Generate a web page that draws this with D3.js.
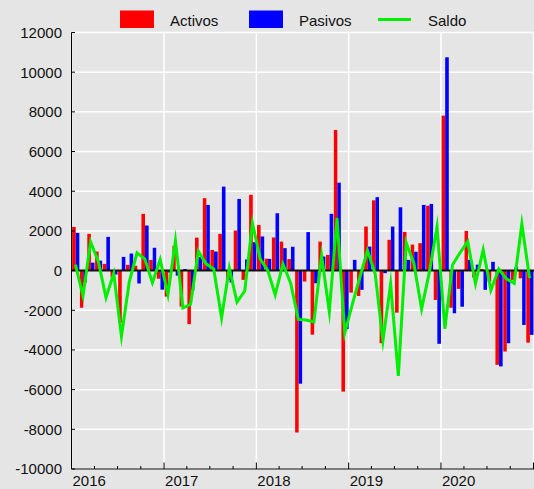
<!DOCTYPE html>
<html><head><meta charset="utf-8">
<script src="https://cdn.jsdelivr.net/npm/d3@7"></script>
<style>
body{margin:0;background:#e5e5e5;}
svg{display:block;font-family:"Liberation Sans",Arial,Helvetica,sans-serif;}
</style>
</head><body>
<svg id="c" width="534" height="489"></svg>
<script>
// ---- data ----
const months = [
 "2016-01","2016-02","2016-03","2016-04","2016-05","2016-06","2016-07","2016-08","2016-09","2016-10","2016-11","2016-12",
 "2017-01","2017-02","2017-03","2017-04","2017-05","2017-06","2017-07","2017-08","2017-09","2017-10","2017-11","2017-12",
 "2018-01","2018-02","2018-03","2018-04","2018-05","2018-06","2018-07","2018-08","2018-09","2018-10","2018-11","2018-12",
 "2019-01","2019-02","2019-03","2019-04","2019-05","2019-06","2019-07","2019-08","2019-09","2019-10","2019-11","2019-12",
 "2020-01","2020-02","2020-03","2020-04","2020-05","2020-06","2020-07","2020-08","2020-09","2020-10","2020-11","2020-12"];
const activos = [
 2200,-1870,1850,960,340,-340,-2620,290,240,2860,540,-410,
 -1310,1250,-1810,-2700,1660,3650,1040,1850,-470,2020,-470,3820,
 2300,600,1670,1460,580,-8160,-550,-3230,1460,790,7090,-6100,
 -1110,-1280,2220,3540,-3660,1550,-2120,1950,1310,1380,3270,-1480,
 7810,-1870,-920,2000,-350,80,-550,-4750,-4080,-470,-390,-3630];
const pasivos = [
 1900,-600,400,500,1700,-200,690,860,-650,2270,1150,-960,
 -100,-250,80,-1000,680,3310,960,4230,-600,3610,560,1430,
 1720,590,2890,1130,1200,-5700,1940,-640,710,2860,4430,-2950,
 540,-970,1210,3700,-130,2220,3190,540,950,3310,3360,-3690,
 10750,-2150,-1820,540,300,-970,440,-4830,-3660,170,-2740,-3240];
const saldo = [
 300,-1270,1450,460,-1360,-140,-3310,-570,890,590,-610,550,
 -1210,1500,-1890,-1700,980,340,80,-2380,130,-1590,-1030,2390,
 580,10,-1220,330,-620,-2460,-2490,-2590,750,-2070,2660,-3150,
 -1650,-310,1010,-160,-3530,-670,-5310,1410,360,-1930,-90,2210,
 -2940,280,900,1460,-650,1050,-990,80,-420,-640,2350,-390];
const yTicks = [-10000,-8000,-6000,-4000,-2000,0,2000,4000,6000,8000,10000,12000];
const yearLabels = ["2016","2017","2018","2019","2020"];
const seriesNames = ["Activos","Pasivos","Saldo"];
const colors = ["#ff0000","#0000ff","#00ee00"];

// ---- chart ----
const svg = d3.select("#c");
const parse = d3.timeParse("%Y-%m");
const dates = months.map(parse);
const x = d3.scaleTime().domain([parse("2016-01"), parse("2021-01")]).range([71.5, 533.5]);
const y = d3.scaleLinear().domain([-10000, 12000]).range([469, 32.5]);
const mw = d => x(d3.timeMonth.offset(d,1)) - x(d);

svg.append("rect").attr("width",534).attr("height",489).attr("fill","#e5e5e5");

// grid
svg.append("g").selectAll("line").data(yTicks).join("line")
  .attr("x1",71.5).attr("x2",534).attr("y1",d=>y(d)).attr("y2",d=>y(d))
  .attr("stroke","#fff").attr("stroke-width",1.5);
const yearTicks = x.ticks(d3.timeYear.every(1));
svg.append("g").selectAll("line").data(yearTicks).join("line")
  .attr("x1",d=>x(d)).attr("x2",d=>x(d)).attr("y1",y(12000)).attr("y2",y(-10000))
  .attr("stroke","#fff").attr("stroke-width",1.5);

// bars
const gb = svg.append("g");
dates.forEach((d,i)=>{
  const w = mw(d);
  gb.append("rect").attr("x",x(d)+0.08*w).attr("width",0.46*w)
    .attr("y",y(Math.max(0,activos[i]))).attr("height",Math.abs(y(activos[i])-y(0)))
    .attr("fill",colors[0]);
  gb.append("rect").attr("x",x(d)+0.54*w).attr("width",0.46*w)
    .attr("y",y(Math.max(0,pasivos[i]))).attr("height",Math.abs(y(pasivos[i])-y(0)))
    .attr("fill",colors[1]);
});

// zero line
svg.append("line").attr("x1",71.5).attr("x2",534).attr("y1",y(0)).attr("y2",y(0))
  .attr("stroke","#111").attr("stroke-width",2);

// saldo line
const line = d3.line().x((v,i)=>x(dates[i])+0.5*mw(dates[i])).y(v=>y(v));
svg.append("path").attr("d",line(saldo)).attr("fill","none")
  .attr("stroke",colors[2]).attr("stroke-width",3)
  .attr("stroke-linejoin","miter").attr("stroke-miterlimit",10);

// axes
const ax = svg.append("g").attr("stroke","#000");
ax.append("line").attr("x1",71.5).attr("x2",71.5).attr("y1",y(12000)).attr("y2",y(-10000));
ax.append("line").attr("x1",71.5).attr("x2",534).attr("y1",469).attr("y2",469);
ax.selectAll(".yt").data(yTicks).join("line").attr("class","yt")
  .attr("x1",71.5).attr("x2",75).attr("y1",d=>y(d)).attr("y2",d=>y(d));
ax.selectAll(".xt").data(yearTicks).join("line").attr("class","xt")
  .attr("x1",d=>x(d)).attr("x2",d=>x(d)).attr("y1",469).attr("y2",462.5);
const quarterTicks = x.ticks(d3.timeMonth.every(3)).filter(d=>d.getMonth()!==0);
ax.selectAll(".qt").data(quarterTicks).join("line").attr("class","qt")
  .attr("x1",d=>x(d)).attr("x2",d=>x(d)).attr("y1",469).attr("y2",466);

svg.append("g").selectAll("text").data(yTicks).join("text")
  .attr("x",62).attr("y",d=>y(d)).attr("dy","0.36em").attr("text-anchor","end")
  .attr("font-size",15).attr("fill","#111").text(d=>d);
svg.append("g").selectAll("text").data(yearLabels).join("text")
  .attr("x",d=>x(d3.timeParse("%Y")(d))+1).attr("y",486)
  .attr("font-size",15).attr("fill","#111").text(d=>d);

// legend
const lg = svg.append("g");
const lx = [120,249,378];
seriesNames.forEach((n,i)=>{
  if(i<2){
    lg.append("rect").attr("x",lx[i]).attr("y",10.5).attr("width",34).attr("height",17.5).attr("fill",colors[i]);
  } else {
    lg.append("line").attr("x1",lx[i]).attr("x2",lx[i]+33).attr("y1",19.5).attr("y2",19.5)
      .attr("stroke",colors[i]).attr("stroke-width",3);
  }
  lg.append("text").attr("x",lx[i]+50).attr("y",25.5).attr("font-size",15).attr("fill","#111").text(n);
});
</script>
</body></html>
